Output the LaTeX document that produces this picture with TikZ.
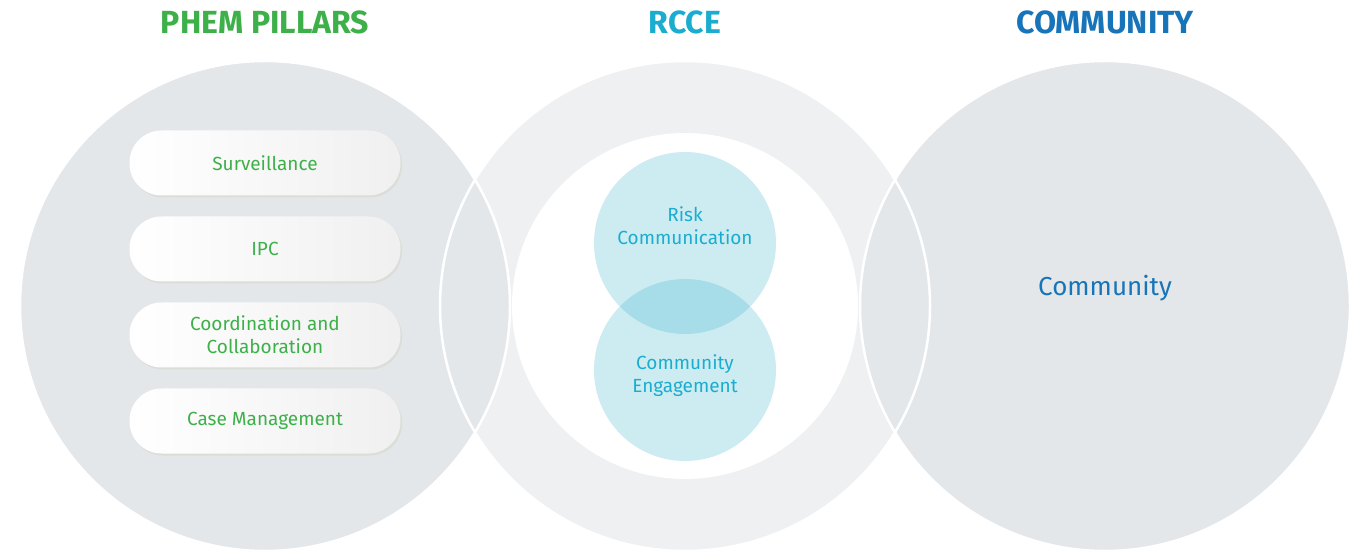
\documentclass[tikz,border=0pt]{standalone}
\usepackage{fontspec}
\setmainfont{Fira Sans}
\newfontfamily\headfont{Fira Sans}
\usetikzlibrary{shadows}

\definecolor{sidegray}{RGB}{227,231,234}
\definecolor{midgray}{RGB}{238,240,242}
\definecolor{phemgreen}{RGB}{61,176,74}
\definecolor{rccecyan}{RGB}{26,173,208}
\definecolor{commblue}{RGB}{24,116,185}
\definecolor{bubble}{RGB}{23,168,197}
\definecolor{pillshade}{RGB}{205,205,180}

\tikzset{
  bigcircle/.style={circle,minimum size=490pt,inner sep=0pt},
  pill/.style={rectangle,rounded corners=32pt,minimum width=271pt,minimum height=65pt,
    left color=white,right color=black!6,align=center,text=phemgreen,
    font=\fontsize{19}{23}\selectfont,
    drop shadow={opacity=0.35,fill=pillshade,shadow xshift=1.5pt,shadow yshift=-2pt}},
  bubblecircle/.style={circle,minimum size=182pt,inner sep=0pt,fill=bubble,fill opacity=0.21},
  bubbletext/.style={text=rccecyan,align=center,font=\fontsize{19}{23}\selectfont},
  title/.style={font=\headfont\bfseries\fontsize{32}{36}\selectfont}
}

\begin{document}
\begin{tikzpicture}[x=1pt,y=-1pt]
\useasboundingbox[fill=white] (0,0) rectangle (1350,553);

\node[bigcircle,fill=midgray] (rcce) at (685,306) {};
\node[bigcircle,fill=sidegray] (phem) at (265,306) {};
\node[bigcircle,fill=sidegray] (comm) at (1105,306) {};
\node[circle,minimum size=346pt,inner sep=0pt,fill=white] (inner) at (685,306) {};
\draw[white,line width=2.5pt] (phem.center) circle[radius=245pt];
\draw[white,line width=2.5pt] (rcce.center) circle[radius=245pt];
\draw[white,line width=2.5pt] (comm.center) circle[radius=245pt];

\node[title,text=phemgreen] (phemtitle) at (265,22) {PHEM PILLARS};
\node[title,text=rccecyan] (rccetitle) at (685,22) {RCCE};
\node[title,text=commblue] (commtitle) at (1105,22) {COMMUNITY};

\node[pill] (surv) at (265,163) {Surveillance};
\node[pill] (ipc) at (265,249) {IPC};
\node[pill] (coord) at (265,335) {Coordination and\\Collaboration};
\node[pill] (case) at (265,421) {Case Management};

\node[bubblecircle] (risk) at (685,243) {};
\node[bubblecircle] (engage) at (685,370) {};
\node[bubbletext] (risktext) at (685,226) {Risk\\Communication};
\node[bubbletext] (engagetext) at (685,376) {Community\\Engagement};

\node[text=commblue,font=\fontsize{26}{30}\selectfont] (commtext) at (1105,288) {Community};
\end{tikzpicture}
\end{document}
